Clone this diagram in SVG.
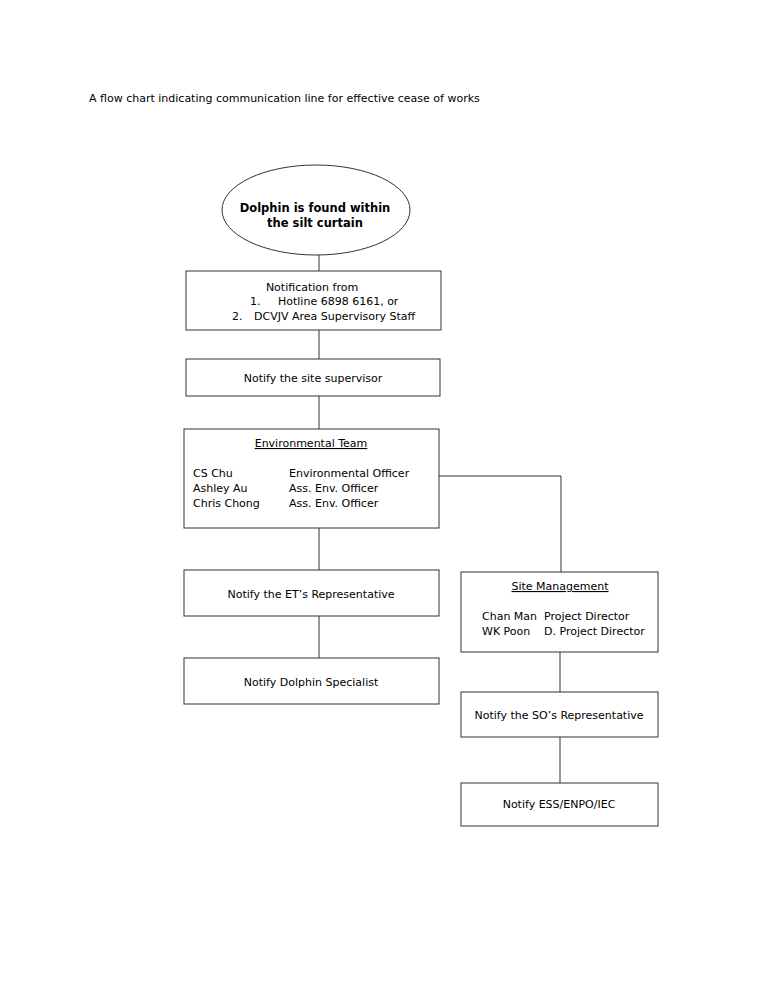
<svg xmlns="http://www.w3.org/2000/svg" width="765" height="990" viewBox="0 0 765 990">
<style>
text{font-family:"DejaVu Sans","Liberation Sans",sans-serif;font-size:11px;fill:#000}
.c{text-anchor:middle}
.b{font-weight:bold;font-size:11.5px}
.u{text-decoration:underline}
.n{fill:#fff;stroke:#333;stroke-width:1}
.l{stroke:#333;stroke-width:1;fill:none}
</style>
<rect width="765" height="990" fill="#fff"/>
<text x="89" y="102">A flow chart indicating communication line for effective cease of works</text>
<g id="connectors">
<path class="l" d="M319 255V271M319 330V359M319 396V429M319 528V570M319 616V658M439 476H561V572M560 652V692M560 737V783"/>
</g>
<g id="start"><ellipse class="n" cx="316" cy="210" rx="94" ry="45"/>
<text class="c b" x="315" y="212">Dolphin is found within</text>
<text class="c b" x="315" y="227">the silt curtain</text></g>
<g id="notification"><rect class="n" x="186" y="271" width="255" height="59"/>
<text class="c" x="312" y="291">Notification from</text>
<text x="250" y="305">1.</text><text x="278" y="305">Hotline 6898 6161, or</text>
<text x="232" y="320">2.</text><text x="254" y="320">DCVJV Area Supervisory Staff</text></g>
<g id="supervisor"><rect class="n" x="186" y="359" width="254" height="37"/>
<text class="c" x="313" y="382">Notify the site supervisor</text></g>
<g id="env-team"><rect class="n" x="184" y="429" width="255" height="99"/>
<text class="c u" x="311" y="447">Environmental Team</text>
<text x="193" y="477">CS Chu</text><text x="289" y="477">Environmental Officer</text>
<text x="193" y="492">Ashley Au</text><text x="289" y="492">Ass. Env. Officer</text>
<text x="193" y="507">Chris Chong</text><text x="289" y="507">Ass. Env. Officer</text></g>
<g id="et-rep"><rect class="n" x="184" y="570" width="255" height="46"/>
<text class="c" x="311" y="598">Notify the ET’s Representative</text></g>
<g id="specialist"><rect class="n" x="184" y="658" width="255" height="46"/>
<text class="c" x="311" y="686">Notify Dolphin Specialist</text></g>
<g id="site-mgmt"><rect class="n" x="461" y="572" width="197" height="80"/>
<text class="c u" x="560" y="590">Site Management</text>
<text x="482" y="620">Chan Man</text><text x="544" y="620">Project Director</text>
<text x="482" y="635">WK Poon</text><text x="544" y="635">D. Project Director</text></g>
<g id="so-rep"><rect class="n" x="461" y="692" width="197" height="45"/>
<text class="c" x="559" y="719">Notify the SO’s Representative</text></g>
<g id="ess"><rect class="n" x="461" y="783" width="197" height="43"/>
<text class="c" x="559" y="808">Notify ESS/ENPO/IEC</text></g>
</svg>
